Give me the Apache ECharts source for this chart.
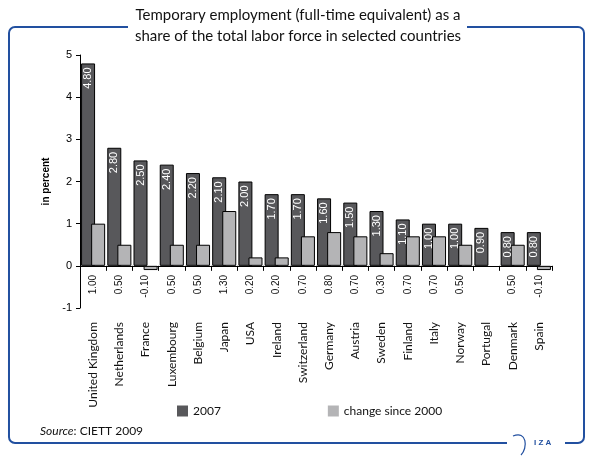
<!DOCTYPE html>
<html><head><meta charset="utf-8">
<script src="https://cdn.jsdelivr.net/npm/echarts@6/dist/echarts.min.js"></script>
<style>html,body{margin:0;padding:0;background:#fff}#c{width:596px;height:457px}</style>
</head><body><div id="c"></div>
<script>
const countries = ["United Kingdom","Netherlands","France","Luxembourg","Belgium","Japan","USA","Ireland","Switzerland","Germany","Austria","Sweden","Finland","Italy","Norway","Portugal","Denmark","Spain"];
const share2007 = [4.80,2.80,2.50,2.40,2.20,2.10,2.00,1.70,1.70,1.60,1.50,1.30,1.10,1.00,1.00,0.90,0.80,0.80];
const change2000 = [1.00,0.50,-0.10,0.50,0.50,1.30,0.20,0.20,0.70,0.80,0.70,0.30,0.70,0.70,0.50,null,0.50,-0.10];
const yMin = -1, yMax = 5, yStep = 1;

const chart = echarts.init(document.getElementById('c'), null, {renderer:'canvas'});
const blue = '#2250a0';
const gill = 'Lato';
const arial = 'Liberation Sans';
const gridTop = 55, gridBottom = 149, H = 457;
const plotH = H - gridTop - gridBottom;
const zeroOffset = -plotH * (0 - yMin) / (yMax - yMin); // move category axis up to value 0
chart.setOption({
  animation:false,
  backgroundColor:'#fff',
  graphic:[
    {type:'rect', shape:{x:9,y:27,width:575,height:416,r:6}, style:{fill:'none',stroke:blue,lineWidth:2}, z:0},
    {type:'rect', shape:{x:128,y:10,width:339,height:34}, style:{fill:'#fff'}, z:1},
    {type:'text', x:298, y:5, z:2, style:{text:'Temporary employment (full-time equivalent) as a\nshare of the total labor force in selected countries', font:'15px '+gill, fill:'#111', align:'center', textAlign:'center', lineHeight:21}},
    {type:'rect', shape:{x:507,y:437,width:58,height:12}, style:{fill:'#fff'}, z:1},
    {type:'bezierCurve', shape:{x1:513,y1:436,x2:521,y2:455,cpx1:527,cpy1:430,cpx2:528,cpy2:448}, style:{stroke:blue,lineWidth:1.2,fill:'none'}, z:2},
    {type:'text', x:534, y:439, z:2, style:{text:'I Z A', font:'bold 8px '+arial, fill:blue}},
    {type:'text', x:40, y:425, z:2, style:{text:'{i|Source}: CIETT 2009', font:'12px '+gill, fill:'#111', rich:{i:{fontStyle:'italic',fontFamily:gill,fontSize:12,fill:'#111'}}}}
  ],
  legend:{
    left:172, top:400, itemWidth:11, itemHeight:11, itemGap:107, icon:'rect',
    textStyle:{fontFamily:gill,fontSize:12,color:'#111'},
    itemStyle:{borderWidth:0},
    data:['2007','change since 2000']
  },
  grid:{left:80, right:44, top:gridTop, bottom:gridBottom, containLabel:false},
  yAxis:{
    type:'value', min:yMin, max:yMax, interval:yStep,
    name:'in percent', nameLocation:'middle', nameGap:28,
    nameTextStyle:{fontFamily:arial,fontSize:10,fontWeight:'bold',color:'#000'},
    axisLine:{show:true,lineStyle:{color:'#000',width:1}},
    axisTick:{show:true,length:4,lineStyle:{color:'#000'}},
    axisLabel:{fontFamily:arial,fontSize:11,color:'#000',margin:8},
    splitLine:{show:false}
  },
  xAxis:[
    {type:'category', data:countries, position:'bottom', offset:zeroOffset,
     axisLine:{onZero:false,lineStyle:{color:'#000'}},
     axisTick:{show:true,length:5,lineStyle:{color:'#000'}},
     axisLabel:{rotate:90, interval:0, margin:9, fontFamily:arial, fontSize:10, color:'#111',
       formatter:(v,i)=>change2000[i]==null?'':change2000[i].toFixed(2)}},
    {type:'category', data:countries, position:'bottom', axisLine:{show:false,onZero:false}, axisTick:{show:false},
     axisLabel:{rotate:90, interval:0, margin:14, fontFamily:gill, fontSize:12, color:'#111'}}
  ],
  series:[
    {name:'2007', type:'bar', data:share2007, barWidth:14, barGap:'-28%', xAxisIndex:0,
     itemStyle:{color:'#58585b', borderColor:'#000', borderWidth:1},
     label:{show:true, position:'insideTop', rotate:90, align:'right', verticalAlign:'middle', distance:4,
       color:'#fff', fontFamily:arial, fontSize:11, formatter:p=>p.value.toFixed(2)}},
    {name:'change since 2000', type:'bar', data:change2000, barWidth:14, xAxisIndex:0,
     itemStyle:{color:'#b4b4b6', borderColor:'#000', borderWidth:1}}
  ]
});
</script></body></html>
